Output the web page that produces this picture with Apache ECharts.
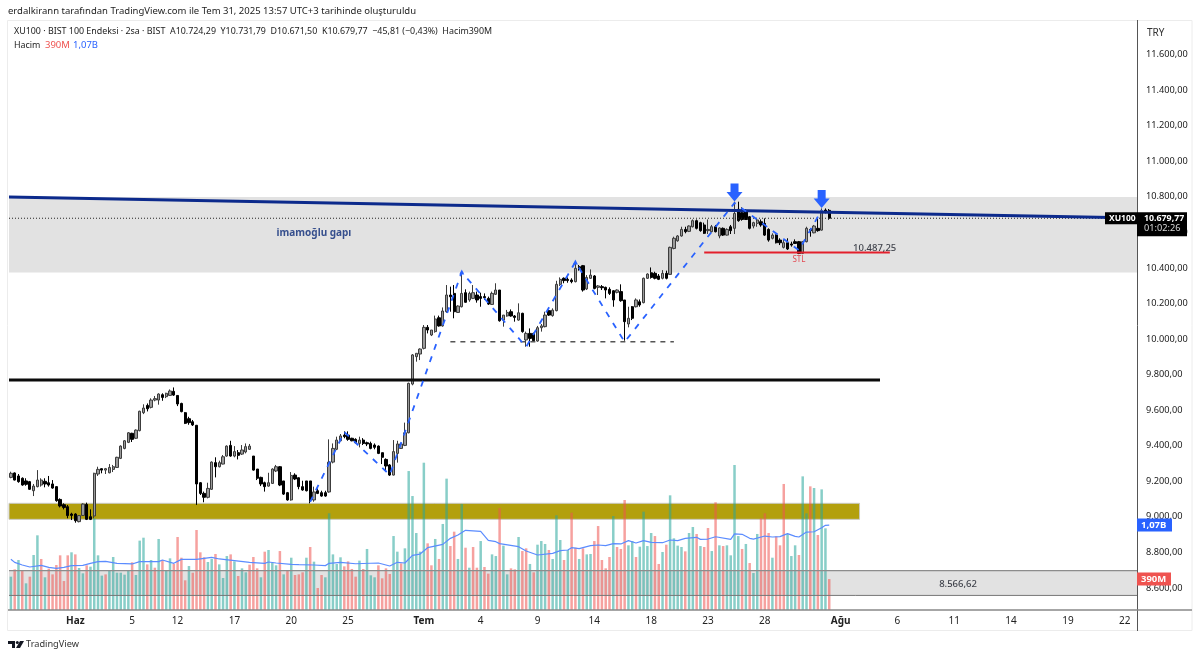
<!DOCTYPE html>
<html>
<head>
<meta charset="utf-8">
<title>XU100</title>
<script src="https://cdn.jsdelivr.net/npm/echarts@6/dist/echarts.min.js"></script>
<style>
html, body { margin: 0; padding: 0; background: #fff; }
#chart { width: 1200px; height: 658px; }
</style>
</head>
<body>
<div id="chart"></div>
<script>
//--------------------Data--------------------
const slot_count = 298;
const tick_slots = [17, 32, 44, 59, 74, 89, 109, 124, 139, 154, 169, 184, 199, 219, 234, 249, 264, 279, 294];
const tick_names = ["Haz", "5", "12", "17", "20", "25", "Tem", "4", "9", "14", "18", "23", "28", "Ağu", "6", "11", "14", "19", "22"];
const month_names = ["Haz", "Tem", "Ağu"];
const price_ticks = [8600, 8800, 9000, 9200, 9400, 9600, 9800, 10000, 10200, 10400, 10600, 10800, 11000, 11200, 11400, 11600];

const body_tops = [
  9245,9247,9230,9217,9202,9198,9173,9207,9207,9200,
  9192,9185,9170,9098,9068,9057,9016,9016,9007,9072,
  9070,9001,9245,9267,9271,9271,9278,9282,9335,9398,
  9428,9473,9470,9488,9594,9612,9627,9657,9665,9691,
  9687,9695,9708,9706,9683,9638,9586,9552,9535,9515,
  9192,9132,9160,9308,9305,9305,9338,9398,9402,9367,
  9361,9376,9395,9398,9342,9269,9222,9192,9192,9269,
  9282,9282,9202,9136,9233,9235,9220,9170,9202,9202,
  9140,9147,9136,9136,9308,9385,9432,9455,9460,9460,
  9442,9436,9432,9432,9417,9413,9404,9398,9361,9323,
  9292,9367,9410,9410,9473,9751,9911,9920,9944,10066,
  10066,10051,10113,10120,10158,10248,10248,10257,10186,10257,
  10261,10257,10261,10248,10239,10239,10229,10257,10276,10276,
  10135,10150,10154,10130,10148,10145,10032,10032,10032,10064,
  10074,10135,10160,10163,10308,10336,10342,10336,10332,10398,
  10407,10413,10347,10360,10355,10299,10295,10291,10280,10272,
  10276,10267,10220,10117,10182,10220,10210,10342,10366,10373,
  10370,10355,10370,10370,10516,10567,10580,10617,10617,10636,
  10666,10666,10655,10642,10617,10632,10632,10625,10623,10617,
  10632,10707,10730,10711,10717,10688,10655,10670,10660,10651,
  10617,10585,10585,10557,10542,10542,10535,10548,10548,10548,
  10623,10617,10636,10623,10722,10726,10724.29
];
const body_bottoms = [
  9222,9207,9198,9179,9183,9155,9147,9170,9179,9185,
  9179,9162,9091,9061,9053,9007,9008,8978,8973,9008,
  8986,8986,9005,9241,9263,9263,9248,9267,9278,9329,
  9385,9419,9436,9442,9485,9586,9608,9616,9657,9657,
  9672,9676,9683,9685,9635,9592,9526,9530,9517,9185,
  9132,9110,9110,9155,9282,9282,9297,9342,9342,9342,
  9346,9353,9365,9380,9263,9217,9185,9170,9173,9188,
  9258,9179,9128,9095,9095,9213,9170,9151,9147,9095,
  9095,9132,9117,9117,9140,9308,9380,9428,9451,9436,
  9428,9417,9413,9413,9410,9385,9391,9357,9335,9286,
  9235,9235,9357,9385,9402,9473,9747,9901,9916,9948,
  10051,10023,10042,10074,10074,10154,10238,10154,10150,10182,
  10207,10220,10229,10220,10229,10233,10197,10195,10252,10103,
  10107,10130,10130,10122,10107,10042,9995,10004,9991,9989,
  10064,10070,10135,10132,10160,10308,10329,10329,10323,10323,
  10398,10276,10282,10342,10285,10291,10289,10276,10257,10220,
  10263,10216,10098,10085,10117,10182,10192,10205,10342,10347,
  10342,10336,10342,10342,10364,10510,10553,10580,10604,10606,
  10632,10623,10610,10595,10610,10604,10604,10580,10585,10585,
  10610,10623,10666,10673,10673,10623,10636,10651,10642,10585,
  10557,10567,10542,10542,10516,10507,10529,10538,10482,10482,
  10548,10610,10598,10610,10613,10717,10679.77
];
const wick_highs = [
  9254,9250,9241,9222,9217,9202,9185,9263,9217,9217,
  9230,9207,9173,9104,9076,9067,9023,9020,9010,9076,
  9080,9042,9248,9282,9273,9275,9297,9292,9338,9402,
  9432,9477,9473,9492,9597,9633,9638,9667,9680,9695,
  9695,9698,9717,9728,9685,9642,9590,9563,9545,9517,
  9196,9142,9192,9312,9335,9316,9348,9402,9428,9398,
  9376,9404,9413,9410,9342,9269,9226,9198,9248,9273,
  9292,9286,9202,9140,9252,9245,9222,9203,9202,9202,
  9170,9160,9147,9147,9436,9413,9451,9466,9481,9481,
  9445,9442,9451,9443,9423,9423,9413,9402,9361,9329,
  9297,9432,9428,9417,9530,9755,9916,9920,9948,10079,
  10079,10051,10132,10132,10178,10304,10295,10304,10190,10379,
  10280,10267,10304,10267,10261,10257,10239,10267,10314,10276,
  10135,10164,10167,10135,10201,10148,10042,10060,10036,10074,
  10085,10154,10163,10173,10328,10347,10347,10347,10342,10435,
  10417,10417,10360,10392,10360,10304,10304,10295,10291,10276,
  10280,10308,10220,10182,10186,10229,10223,10346,10370,10403,
  10379,10366,10388,10385,10520,10576,10585,10632,10632,10640,
  10673,10673,10660,10655,10673,10642,10642,10628,10628,10623,
  10642,10773,10773,10741,10730,10692,10660,10679,10673,10679,
  10623,10595,10589,10567,10557,10567,10548,10561,10552,10552,
  10632,10623,10642,10679,10735,10735,10731.79
];
const wick_lows = [
  9217,9205,9192,9175,9175,9151,9117,9166,9170,9166,
  9170,9158,9085,9053,9042,8992,8982,8967,8969,9005,
  8982,8982,8992,9230,9245,9241,9245,9252,9275,9325,
  9380,9415,9421,9438,9481,9578,9593,9610,9650,9631,
  9653,9668,9680,9680,9623,9588,9522,9518,9511,9067,
  9123,9082,9104,9151,9222,9278,9295,9338,9338,9335,
  9323,9348,9357,9376,9260,9207,9173,9142,9170,9185,
  9252,9173,9123,9091,9091,9207,9155,9147,9143,9076,
  9085,9128,9113,9113,9136,9301,9376,9425,9442,9428,
  9425,9413,9391,9404,9398,9380,9380,9353,9297,9263,
  9230,9233,9305,9382,9398,9470,9740,9873,9882,9942,
  10032,10017,10036,10070,10070,10148,10154,10117,10147,10178,
  10205,10210,10225,10205,10182,10220,10192,10192,10248,10098,
  10070,10126,10126,10098,10103,10036,9957,9957,9985,9985,
  10042,10066,10130,10126,10156,10299,10314,10317,10314,10319,
  10385,10267,10276,10338,10280,10248,10276,10229,10248,10182,
  10257,10210,9991,10066,10107,10178,10182,10201,10338,10340,
  10336,10332,10336,10336,10362,10505,10548,10576,10595,10602,
  10628,10617,10604,10591,10591,10600,10600,10567,10580,10582,
  10591,10591,10660,10666,10670,10617,10623,10632,10632,10580,
  10548,10561,10538,10529,10510,10501,10520,10535,10478,10478,
  10544,10576,10595,10604,10610,10707,10671.5
];
const candle_dirs =
  "UDDDDDUUUD" + "DDDDDDDDUU" + "DDUUDUUUUU" + "UUDUUUDUUU" + "DUUDDDDDDD" +
  "DDUUDUUUDU" + "DUUUDDDDUU" + "UDDDUDDDDD" + "UDDDUUUUDD" + "DDUDDDDDDD" +
  "DUUUUUUUUU" + "DUUDUUDDUU" + "DUUDDDDUUD" + "UUDDUDUDDU" + "UUDUUUDDDU" +
  "DDUUDUDDDD" + "UDDUDUDUUD" + "DDUDUUUUDU" + "UDDDUUDUDU" + "DUDDDDUUDD" +
  "DUDDUDDDDU" + "UDUDUDD";

const volumes = [
  420,512,630,491,336,420,693,941,643,412,
  521,449,567,689,365,689,727,701,529,462,
  563,546,1155,689,433,449,504,668,470,470,
  445,491,601,441,874,911,575,630,533,895,
  630,496,651,580,920,659,374,554,470,1008,
  727,664,605,643,706,575,403,680,701,613,
  428,525,475,571,668,525,412,735,756,596,
  563,743,449,491,659,441,449,475,659,794,
  609,277,441,412,1218,701,580,664,550,613,
  517,420,622,517,769,437,412,563,399,525,
  454,932,735,588,777,1751,1436,970,735,1856,
  840,563,895,643,1084,1655,806,987,643,1336,
  785,533,794,533,869,542,458,701,680,1285,
  811,449,525,512,920,743,777,580,475,823,
  869,832,756,643,1193,882,630,756,1226,785,
  643,777,701,706,869,1058,630,525,668,1184,
  794,769,1386,815,869,668,798,1239,806,970,
  932,580,731,823,1445,903,811,794,739,970,
  1046,958,806,794,1033,743,1357,815,806,815,
  689,1827,932,769,832,592,466,958,1155,1218,
  970,659,928,815,1588,958,680,815,693,1684,
  1218,1558,1537,945,1520,1029,390
];
const volume_dirs =
  "grgrgrggrg" + "rrrrrrgrgg" + "rggggrgggg" + "ggrgggrgrg" + "rggrrrrgrr" +
  "rrggrgggrg" + "rggrrrgrgg" + "grgrgrrrgr" + "grrgggggrr" + "rrgrgggrrr" +
  "rggrgggggg" + "rrgrggrrgg" + "rgrrgrrggr" + "ggrrgrrgrg" + "ggrgggrgrr" +
  "grggrrrrrg" + "rrrggrgggg" + "rrgrggggrg" + "grgrrgrgrg" + "gggrgrggrr" +
  "rgrrrgggrg" + "grgrggr";

// volume average, vertices
const avg_slots = [0,1,3,5,8,10,12,14,16,19,21,23,25,28,32,34,39,40,43,45,49,53,55,59,63,67,68,70,74,76,80,83,84,87,91,97,100,102,104,106,108,110,114,116,118,120,124,126,128,129,134,136,139,143,145,147,148,150,153,155,157,159,161,163,165,167,169,172,174,176,178,181,182,184,186,190,191,193,195,196,199,201,203,205,207,208,210,212,214,215,216];
const avg_values = [640,600,567,542,563,538,525,538,559,563,588,609,613,588,580,609,609,630,588,638,638,664,643,622,601,588,605,592,575,571,567,559,588,601,583,592,554,601,592,689,705,785,827,903,945,1004,991,878,861,836,798,743,693,714,748,756,785,773,811,819,811,836,832,874,844,874,853,848,882,874,903,916,890,894,923,890,958,954,903,894,932,920,924,962,928,920,982,986,1037,1067,1070];

//--------------------Drawn levels (bar slot, price)--------------------
const first_edge = -0.5;
const last_edge = slot_count - 0.5;
const trend_prices = [10799, 10681];
const support_price = 9770;
const neckline_price = 9985;
const neckline_slots = [116, 175];
const stl_price = 10487.25;
const stl_slots = [183, 232];
const wave_slots = [79, 88, 100, 119, 136, 149, 162, 191, 208, 214];
const wave_prices = [9084, 9477, 9236, 10377, 9956, 10434, 9984, 10766, 10500, 10726];
const wave_tip_slots = [119, 149];
const wave_tip_prices = [10377, 10434];
const arrow_slots = [191, 214];
const arrow_prices = [10825, 10788];
const gap_zone = [10374, 10800];
const olive_zone = [8986, 9076];
const olive_end = 224;
const low_zone = [8558, 8698];
const last_price = 10679.77;
const last_volume = 390;
const last_average = 1070;

//--------------------Helpers--------------------
const font_main = "'Noto Sans', sans-serif";
function fmt_price(v) {
    return v.toFixed(2).replace('.', ',').replace(/\B(?=(\d{3})+,)/g, '.');
}
function level_line(x0, x1, y0, y1, color, width, type, z) {
    return {
        type: 'line', xAxisIndex: 1, yAxisIndex: 0, silent: true, symbol: 'none', z: z || 4,
        lineStyle: { color: color, width: width, type: type || 'solid' },
        data: [[x0, y0], [x1, y1]]
    };
}
function zone(x0, x1, y0, y1, fill, border) {
    return {
        type: 'line', xAxisIndex: 1, yAxisIndex: 0, silent: true, symbol: 'none', data: [],
        markArea: {
            silent: true, z: 1,
            itemStyle: { color: fill, borderColor: border || fill, borderWidth: border ? 1 : 0 },
            data: [[{ coord: [x0, y1] }, { coord: [x1, y0] }]]
        }
    };
}
function note(slot, price, text, color, size, weight) {
    return {
        type: 'scatter', xAxisIndex: 1, yAxisIndex: 0, silent: true, symbolSize: 0, z: 6,
        label: {
            show: true, position: 'inside', formatter: text, color: color,
            fontSize: size, fontWeight: weight || 'normal', fontFamily: font_main
        },
        data: [[slot, price]]
    };
}

//--------------------Series--------------------
let categories = new Array(slot_count).fill('');
tick_slots.forEach(function (s, i) { categories[s] = tick_names[i]; });

let candle_data = body_tops.map(function (top, i) {
    let up = candle_dirs[i] === 'U';
    return [up ? body_bottoms[i] : top, up ? top : body_bottoms[i], wick_lows[i], wick_highs[i]];
});
let volume_data = volumes.map(function (v, i) {
    return { value: v, itemStyle: { color: volume_dirs[i] === 'g' ? 'rgba(38,166,154,0.55)' : 'rgba(239,83,80,0.55)' } };
});

let series_list = [
    zone(first_edge, last_edge, gap_zone[0], gap_zone[1], '#e2e2e2'),
    zone(first_edge, last_edge, low_zone[0], low_zone[1], '#e2e2e2'),
    zone(first_edge, olive_end, olive_zone[0], olive_zone[1], '#b3a00d', '#c9c9c0'),
    {
        type: 'bar', xAxisIndex: 0, yAxisIndex: 1, barWidth: 2.5, z: 2, silent: true, data: volume_data
    },
    {
        type: 'line', xAxisIndex: 1, yAxisIndex: 1, symbol: 'none', silent: true, z: 3,
        lineStyle: { color: '#5b8cff', width: 1.2 },
        data: avg_slots.map(function (s, i) { return [s, avg_values[i]]; })
    },
    level_line(first_edge, last_edge, low_zone[1], low_zone[1], '#8d8d8d', 1.2, 'solid', 3),
    level_line(first_edge, last_edge, low_zone[0], low_zone[0], '#777777', 1, 'solid', 3),
    {
        type: 'candlestick', xAxisIndex: 0, yAxisIndex: 0, barWidth: 2.8, z: 4, silent: true,
        itemStyle: { color: '#9a9a9a', color0: '#000000', borderColor: '#3c3c3c', borderColor0: '#000000', borderWidth: 1 },
        data: candle_data
    },
    level_line(first_edge, last_edge, last_price, last_price, '#222222', 1, [1, 2], 5),
    level_line(first_edge, last_edge, trend_prices[0], trend_prices[1], '#0c2a8c', 3, 'solid', 5),
    level_line(first_edge, 229.4, support_price, support_price, '#0b0b0b', 3, 'solid', 5),
    level_line(neckline_slots[0], neckline_slots[1], neckline_price, neckline_price, '#555555', 1.5, [5, 5], 5),
    level_line(stl_slots[0], stl_slots[1], stl_price, stl_price, '#e3202c', 2, 'solid', 5),
    {
        type: 'line', xAxisIndex: 1, yAxisIndex: 0, symbol: 'none', silent: true, z: 5,
        lineStyle: { color: '#2962ff', width: 1.8, type: [6, 7] },
        data: wave_slots.map(function (s, i) { return [s, wave_prices[i]]; })
    },
    {
        type: 'scatter', xAxisIndex: 1, yAxisIndex: 0, silent: true, z: 5,
        symbol: 'triangle', symbolSize: [5, 5], itemStyle: { color: '#2962ff', opacity: 1 },
        data: wave_tip_slots.map(function (s, i) { return [s, wave_tip_prices[i]]; })
    },
    {
        type: 'scatter', xAxisIndex: 1, yAxisIndex: 0, silent: true, z: 6,
        symbol: 'path://M4,0 L12,0 L12,8 L16,8 L8,17 L0,8 L4,8 Z', symbolSize: [16, 18],
        itemStyle: { color: '#2962ff', opacity: 1 },
        data: arrow_slots.map(function (s, i) { return [s, arrow_prices[i]]; })
    },
    note(80, 10597, 'imamoğlu gapı', '#0b2a78', 10, 'bold'),
    note(228, 10512, fmt_price(stl_price), '#131722', 9.5, 500),
    note(208, 10447, 'STL', '#e3202c', 8),
    note(250, 8622, fmt_price(8566.62), '#131722', 9.5, 500)
];

//--------------------Generate Graph--------------------
let chart = echarts.init(document.getElementById('chart'));
let option = {
    animation: false,
    backgroundColor: '#ffffff',
    textStyle: { fontFamily: font_main },
    grid: { left: 9, right: 62, top: 20, bottom: 48, containLabel: false },
    xAxis: [
        {
            type: 'category', data: categories, boundaryGap: true,
            axisLine: { show: false }, axisTick: { show: false }, splitLine: { show: false },
            axisLabel: {
                interval: function (i) { return categories[i] !== ''; },
                margin: 6, color: '#222222', fontSize: 10, fontFamily: font_main,
                formatter: function (v) { return month_names.indexOf(v) >= 0 ? '{m|' + v + '}' : v; },
                rich: { m: { fontWeight: 'bold', fontSize: 10, color: '#222222', fontFamily: font_main } }
            }
        },
        { type: 'value', show: false, min: first_edge, max: last_edge, splitLine: { show: false } }
    ],
    yAxis: [
        {
            type: 'value', position: 'right', min: 8476, max: 11795, scale: true,
            axisLine: { show: false }, axisTick: { show: false }, splitLine: { show: false },
            axisLabel: {
                customValues: price_ticks, margin: 8, color: '#222222', fontSize: 9.2, fontFamily: font_main,
                formatter: fmt_price
            }
        },
        { type: 'value', show: false, min: 0, max: 7434, splitLine: { show: false } }
    ],
    series: series_list
};
chart.setOption(option);

//------------------Frame, header and price tags------------------
function y_of(value, axis) {
    return chart.convertToPixel({ yAxisIndex: axis }, value);
}
function tag(x, y, w, h, fill, text, color, size) {
    return [
        { type: 'rect', shape: { x: x, y: y - h / 2, width: w, height: h }, style: { fill: fill }, z: 20 },
        {
            type: 'text', x: x + 4, y: y, z: 21,
            style: { text: text, fill: color, font: 'bold ' + size + 'px ' + font_main, textVerticalAlign: 'middle' }
        }
    ];
}
let y_last = y_of(last_price, 0);
let graphics = [
    { type: 'rect', shape: { x: 7.5, y: 20.5, width: 1184.5, height: 610 }, style: { fill: 'none', stroke: '#ececec', lineWidth: 1 }, z: 10 },
    { type: 'line', shape: { x1: 1137.5, y1: 20, x2: 1137.5, y2: 631 }, style: { stroke: '#555555', lineWidth: 1 }, z: 11 },
    { type: 'line', shape: { x1: 8, y1: 610, x2: 1192, y2: 610 }, style: { stroke: '#888888', lineWidth: 1.5 }, z: 11 },
    { type: 'text', x: 8, y: 11, style: { text: 'erdalkirann tarafından TradingView.com ile Tem 31, 2025 13:57 UTC+3 tarihinde oluşturuldu', fill: '#222222', font: '9.5px ' + font_main, textVerticalAlign: 'middle' } },
    { type: 'text', x: 14, y: 31, style: { text: 'XU100 · BIST 100 Endeksi · 2sa · BIST  A10.724,29  Y10.731,79  D10.671,50  K10.679,77  −45,81 (−0,43%)  Hacim390M', fill: '#222222', font: '8.9px ' + font_main, textVerticalAlign: 'middle' } },
    { type: 'text', x: 14, y: 45, style: { text: 'Hacim', fill: '#222222', font: '8.9px ' + font_main, textVerticalAlign: 'middle' } },
    { type: 'text', x: 45, y: 45, style: { text: '390M', fill: '#ef5350', font: '9.5px ' + font_main, textVerticalAlign: 'middle' } },
    { type: 'text', x: 73, y: 45, style: { text: '1,07B', fill: '#2962ff', font: '9.5px ' + font_main, textVerticalAlign: 'middle' } },
    { type: 'text', x: 1147, y: 33, style: { text: 'TRY', fill: '#333333', font: '10px ' + font_main, textVerticalAlign: 'middle' } },
    // TradingView mark
    { type: 'polygon', shape: { points: [[8, 641], [15, 641], [15, 648], [12, 648], [12, 644], [8, 644]] }, style: { fill: '#131722' } },
    { type: 'circle', shape: { cx: 17.3, cy: 642.5, r: 1.5 }, style: { fill: '#131722' } },
    { type: 'polygon', shape: { points: [[20, 641], [24, 641], [20, 648], [16, 648]] }, style: { fill: '#131722' } },
    { type: 'text', x: 26, y: 644, style: { text: 'TradingView', fill: '#333333', font: '9.2px ' + font_main, textVerticalAlign: 'middle' } }
];
graphics = graphics
    .concat(tag(1105, y_last, 32, 12, '#000000', 'XU100', '#ffffff', 8.5))
    .concat([
        { type: 'rect', shape: { x: 1137, y: y_last - 6, width: 50, height: 24 }, style: { fill: '#000000' }, z: 20 },
        { type: 'text', x: 1144, y: y_last, z: 21, style: { text: fmt_price(last_price), fill: '#ffffff', font: 'bold 8.8px ' + font_main, textVerticalAlign: 'middle' } },
        { type: 'text', x: 1144, y: y_last + 10, z: 21, style: { text: '01:02:26', fill: '#d8d8d8', font: '9.2px ' + font_main, textVerticalAlign: 'middle' } }
    ])
    .concat(tag(1137, y_of(last_average, 1), 35, 13, '#2962ff', '1,07B', '#ffffff', 9.5))
    .concat(tag(1137, y_of(last_volume, 1), 34, 13, '#ef5350', '390M', '#ffffff', 9.5));
chart.setOption({ graphic: graphics });
</script>
</body>
</html>
